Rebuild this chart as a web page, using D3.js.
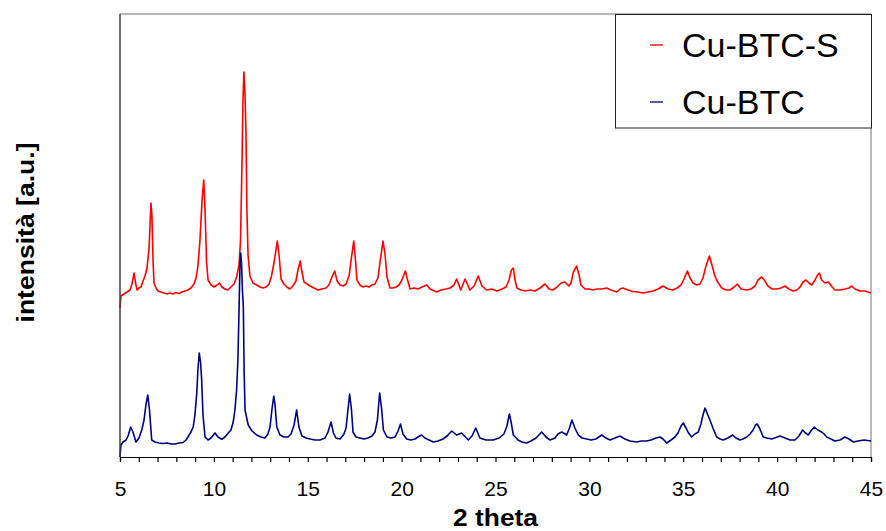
<!DOCTYPE html>
<html>
<head>
<meta charset="utf-8">
<script src="https://cdn.jsdelivr.net/npm/d3@7"></script>
<style>
  html, body { margin: 0; padding: 0; background: #fff; }
  svg { display: block; font-family: "Liberation Sans", Arial, sans-serif; }
</style>
</head>
<body>
<svg id="chart" width="886" height="531"></svg>
<script>
// ---------- data ----------
const seriesNames = ["Cu-BTC-S", "Cu-BTC"];
const seriesColors = ["#ff0000", "#000080"];
const xTickLabels = [5, 10, 15, 20, 25, 30, 35, 40, 45];

const redTheta = [5.00,5.05,5.21,5.37,5.53,5.64,5.75,5.83,5.91,6.01,6.12,6.23,6.33,6.44,6.55,6.60,6.65,6.70,6.76,6.81,6.92,7.02,7.18,7.34,7.50,7.66,7.82,7.98,8.14,8.30,8.46,8.62,8.78,8.94,9.05,9.15,9.26,9.37,9.46,9.53,9.61,9.69,9.85,10.01,10.17,10.30,10.43,10.59,10.75,10.91,11.07,11.21,11.34,11.42,11.50,11.55,11.60,11.66,11.71,11.76,11.82,11.92,12.08,12.28,12.46,12.62,12.78,12.94,13.07,13.21,13.38,13.47,13.58,13.73,13.89,14.05,14.21,14.37,14.48,14.60,14.69,14.80,14.96,15.12,15.33,15.55,15.76,15.97,16.13,16.29,16.44,16.56,16.72,16.88,17.04,17.21,17.31,17.45,17.55,17.62,17.78,17.94,18.10,18.26,18.42,18.58,18.74,18.85,19.01,19.12,19.22,19.38,19.54,19.70,19.86,20.02,20.20,20.29,20.45,20.66,20.87,21.09,21.34,21.51,21.87,22.10,22.36,22.58,22.79,22.93,23.15,23.38,23.64,23.86,24.08,24.28,24.53,24.81,25.08,25.35,25.56,25.72,25.85,25.95,26.04,26.14,26.36,26.57,26.84,27.10,27.37,27.64,27.85,28.06,28.28,28.49,28.70,28.91,29.02,29.15,29.32,29.45,29.55,29.77,29.98,30.19,30.41,30.67,30.92,31.15,31.46,31.63,31.79,32.06,32.32,32.59,32.86,33.12,33.39,33.66,33.92,34.19,34.45,34.67,34.88,35.04,35.22,35.36,35.52,35.72,35.89,36.05,36.21,36.39,36.53,36.67,36.80,37.05,37.28,37.50,37.71,37.88,38.08,38.38,38.61,38.82,38.98,39.18,39.35,39.51,39.73,39.99,40.21,40.42,40.63,40.86,41.06,41.22,41.38,41.54,41.70,41.84,42.02,42.15,42.25,42.37,42.55,42.73,42.93,43.08,43.35,43.62,43.83,43.97,44.15,44.41,44.68,45.00];
const redIntensity = [149,161,163,165,167,173,184,174,167,169,170,176,181,189,209,232,254,242,197,174,169,166,165,164,163,164,163,164.5,163.5,165,166,167,169,173,179,191,217,257,277,247,195,177,172,170,172,174,170,168,167,170,173,180,192,217,297,357,385,362,324,247,202,181,174,172,170,169,170,173,181,195,216,202,178,173,170,168,171,176,187,196,185,175,173,171,169,167,168,169,172,180,186,176,172,171,173,182,197,216,195,177,172,170,171,170,172,173,179,195,216,202,180,169,169,170,172,177,186,179,168,169,168,170,172,168,165,167,168,169,172,178,167,178,167,171,181,171,167,168,166,168,170,177,187,189,177,169,167,166,167,166,169,173,168,167,170,174,175,171,174,185,191,182,172,168,168,167,168,168,169,167,165,168,169,167,165.5,165,164,165,166,168,171,168,167,169,172,178,186,179,174,172,173,179,191,201,192,182,176,169,167,167,170,173,168,167,168,171,177,180,176,171,168,168,169,171,168,166,167,170,175,177,174,172,177,182,184,177,174,175,170,167,167,168,169,171,168,166,166,164];

const blueTheta = [5.00,5.05,5.16,5.32,5.43,5.57,5.69,5.85,6.01,6.16,6.28,6.38,6.48,6.57,6.69,6.86,7.08,7.29,7.50,7.72,7.93,8.14,8.36,8.52,8.62,8.78,8.90,8.99,9.09,9.15,9.22,9.29,9.35,9.42,9.53,9.69,9.85,10.06,10.22,10.42,10.59,10.77,10.91,11.03,11.12,11.21,11.28,11.34,11.39,11.43,11.47,11.52,11.57,11.61,11.66,11.83,12.03,12.28,12.51,12.72,12.88,12.99,13.09,13.19,13.26,13.35,13.52,13.73,13.95,14.11,14.27,14.41,14.53,14.69,14.91,15.12,15.39,15.65,15.92,16.08,16.24,16.37,16.50,16.72,16.93,17.04,17.14,17.23,17.33,17.41,17.57,17.78,17.99,18.21,18.42,18.58,18.71,18.83,18.93,19.03,19.22,19.43,19.65,19.81,19.94,20.07,20.27,20.50,20.71,20.87,21.07,21.24,21.46,21.69,21.94,22.20,22.42,22.67,22.93,23.20,23.55,23.75,23.95,24.17,24.49,24.88,25.19,25.45,25.61,25.74,25.83,25.95,26.20,26.41,26.66,26.89,27.16,27.46,27.69,27.90,28.17,28.33,28.53,28.79,28.94,29.07,29.23,29.41,29.61,29.86,30.09,30.35,30.66,30.88,31.10,31.36,31.63,31.89,32.16,32.52,32.75,33.05,33.28,33.55,33.76,33.92,34.12,34.35,34.56,34.72,34.88,35.00,35.15,35.28,35.45,35.62,35.80,35.94,36.05,36.16,36.29,36.42,36.58,36.78,36.96,37.13,37.38,37.63,37.81,38.02,38.18,38.38,38.56,38.72,38.85,38.94,39.06,39.26,39.46,39.71,39.94,40.15,40.42,40.69,40.95,41.16,41.36,41.51,41.66,41.80,41.98,42.17,42.37,42.50,42.64,42.87,43.08,43.35,43.62,43.83,44.06,44.31,44.63,45.00];
const blueIntensity = [0,12,15,17,21,30,25,15,19,27,37,52,62,47,17,15,14,13.5,14,13,13,14,14.5,17,20,25,30,42,64,87,104,95,77,42,20,17,19,24,20,17.7,20,24,27,35,47,67,97,147,192,204,195,167,150,87,47,32,26,22,20,19,23,30,47,61,52,30,22,20,20,23,32,47,30,21,19,18,17,17,19,25,35,24,19,18,23,29,47,63,47,25,20,19,18,19,21,25,37,64,49,27,20,19,20,26,33,23,18,17,18,20,22,19,17,15,16,18,21,26,22,24,17,21,29,19,17,17,19,23,31,43,35,22,17,15,14,16,19,25,20,17,19,23,25,22,29,37,29,22,19,18,17,18,22,19,17,19,21,18,16,15,16,16,17,19,20,18,14,17,20,24,31,34,29,24,20,23,25,33,42,49,43,37,29,20,18,17,19,22,19,17,18,20,23,27,32,33,29,20,19,18,19.5,21,19,17,17,21,27,24,22,26,30,27,25,23,20,18,16,17,20,18,15,16,17,16];

// ---------- layout ----------
const svg = d3.select("#chart");
const plot = { left: 120, right: 871, top: 14, bottom: 457 };

const x = d3.scaleLinear().domain([5, 45]).range([plot.left, plot.right]);
const y = d3.scaleLinear().domain([0, 443]).range([plot.bottom, plot.top]);

// frame (top & right in grey)
svg.append("line").attr("x1", plot.left).attr("x2", plot.right).attr("y1", plot.top).attr("y2", plot.top)
  .attr("stroke", "#a0a0a0").attr("stroke-width", 1.5);
svg.append("line").attr("x1", plot.right).attr("x2", plot.right).attr("y1", plot.top).attr("y2", plot.bottom)
  .attr("stroke", "#a0a0a0").attr("stroke-width", 1.5);

// curves
const series = [
  { name: seriesNames[0], color: seriesColors[0], theta: redTheta, inten: redIntensity },
  { name: seriesNames[1], color: seriesColors[1], theta: blueTheta, inten: blueIntensity }
];
const line = d3.line().x(d => x(d[0])).y(d => y(d[1]));
series.forEach(s => {
  const pts = s.theta.map((t, i) => [t, s.inten[i]]);
  svg.append("path").datum(pts).attr("d", line)
    .attr("fill", "none").attr("stroke", s.color).attr("stroke-width", 1.6)
    .attr("stroke-linejoin", "round");
});

// left axis line
svg.append("line").attr("x1", plot.left).attr("x2", plot.left).attr("y1", plot.top).attr("y2", plot.bottom)
  .attr("stroke", "#404040").attr("stroke-width", 1.5);

// bottom axis
const xAxis = d3.axisBottom(x)
  .tickValues(d3.range(5, 46, 1))
  .tickSize(5).tickPadding(19)
  .tickFormat(d => xTickLabels.includes(d) ? d : "");
const gx = svg.append("g").attr("transform", `translate(0,${plot.bottom})`).call(xAxis);
gx.select(".domain").attr("stroke", "#000").attr("stroke-width", 1.2);
gx.selectAll(".tick line").attr("stroke", "#000").attr("stroke-width", 1.2);
gx.selectAll(".tick text").attr("font-size", 21).attr("fill", "#000")
  .attr("font-family", "'Liberation Sans', Arial, sans-serif");

// axis titles
svg.append("text").attr("x", (plot.left + plot.right) / 2).attr("y", 526)
  .attr("text-anchor", "middle").attr("font-size", 24).attr("font-weight", "bold")
  .attr("textLength", 85).attr("lengthAdjust", "spacingAndGlyphs")
  .text("2 theta");
svg.append("text")
  .attr("transform", `translate(34,${(plot.top + plot.bottom) / 2 - 3}) rotate(-90)`)
  .attr("text-anchor", "middle").attr("font-size", 24).attr("font-weight", "bold")
  .attr("textLength", 180).attr("lengthAdjust", "spacingAndGlyphs")
  .text("intensità [a.u.]");

// legend
const lg = svg.append("g");
lg.append("rect").attr("x", 615.5).attr("y", 14.5).attr("width", 256).attr("height", 113.5)
  .attr("fill", "#fff").attr("stroke", "#222").attr("stroke-width", 1);
series.forEach((s, i) => {
  const cy = i === 0 ? 45 : 102;
  lg.append("line").attr("x1", 650).attr("x2", 663).attr("y1", cy).attr("y2", cy)
    .attr("stroke", s.color).attr("stroke-width", 1.3);
  lg.append("text").attr("x", 682).attr("y", cy + 12).attr("font-size", 34).attr("fill", "#000")
    .text(s.name);
});
</script>
</body>
</html>
